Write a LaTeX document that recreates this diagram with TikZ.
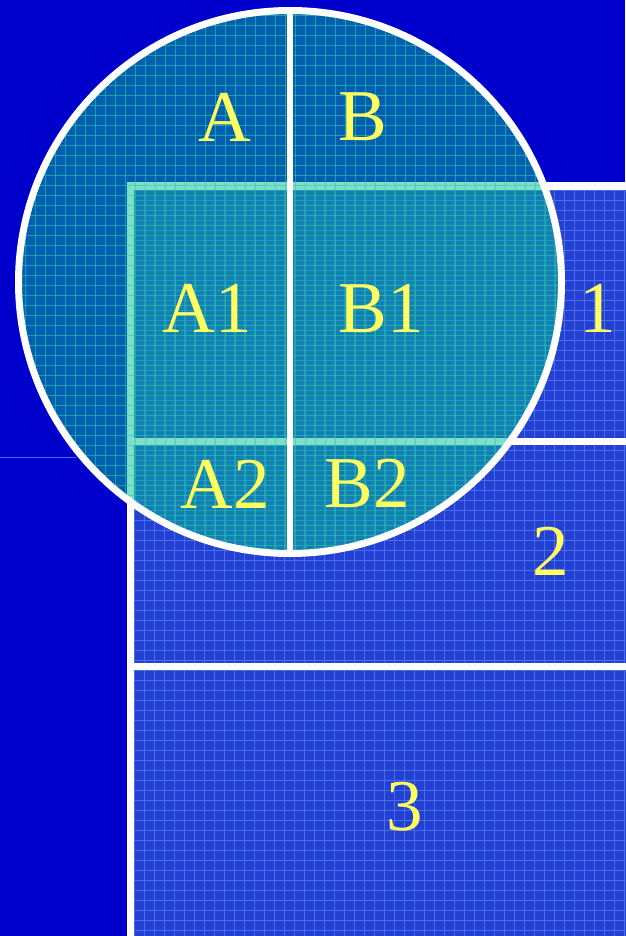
\documentclass[tikz,border=0pt]{standalone}
\usepackage{fontspec}
\setmainfont{Liberation Serif}
\definecolor{deepblue}{RGB}{0,0,204}
\definecolor{rectblue}{RGB}{36,64,212}
\definecolor{rectgrid}{RGB}{72,112,228}
\definecolor{lenscol}{RGB}{0,192,148}
\definecolor{lensgrid}{RGB}{40,200,170}
\definecolor{labelyellow}{RGB}{255,255,96}
\tikzset{
  lbl/.style={text=labelyellow,font=\fontsize{73}{76}\selectfont,inner sep=0pt,text depth=0pt},
  border/.style={white,line width=7pt},
}
\begin{document}
\begin{tikzpicture}[x=1pt,y=-1pt]
\useasboundingbox (0,0) rectangle (625,936);
\fill[deepblue] (0,0) rectangle (625,936);
% faint stray line on the left
\draw[rectgrid,line width=0.8pt] (0,457) -- (76,457);
% the three strips
\fill[rectblue] (130,186) rectangle (630,940);
\begin{scope}
\clip (130,186) rectangle (625,936);
\foreach \x in {134,144,...,630} { \draw[rectgrid,line width=0.9pt] (\x,186) -- (\x,940); }
\foreach \y in {190,200,...,940} { \draw[rectgrid,line width=0.9pt] (130,\y) -- (630,\y); }
\end{scope}
\draw[border] (630,186) -- (130,186) -- (130,940);
\draw[border] (130,441) -- (630,441);
\draw[border] (130,666) -- (630,666);
% the lens
\fill[lenscol,opacity=0.5] (290,282) circle (272);
\begin{scope}
\clip (290,282) circle (272);
\foreach \x in {15,25,...,570} { \draw[lensgrid,line width=0.9pt,opacity=0.6] (\x,0) -- (\x,560); }
\foreach \y in {5,15,...,560} { \draw[lensgrid,line width=0.9pt,opacity=0.6] (0,\y) -- (570,\y); }
\end{scope}
\draw[border] (290,282) circle (271.5);
\coordinate (top) at (290,10.5);
\coordinate (bot) at (290,553.5);
\draw[white,line width=6.5pt] (top) -- (bot);
% labels
\node[lbl] (a) at (225,117) {A};
\node[lbl] (b) at (363,117) {B};
\node[lbl] (a1) at (207,308) {A1};
\node[lbl] (b1) at (381,308) {B1};
\node[lbl] (one) at (598,308) {1};
\node[lbl] (a2) at (225,484) {A2};
\node[lbl] (b2) at (367,483) {B2};
\node[lbl] (two) at (551,551) {2};
\node[lbl] (three) at (405,806) {3};
\end{tikzpicture}
\end{document}
